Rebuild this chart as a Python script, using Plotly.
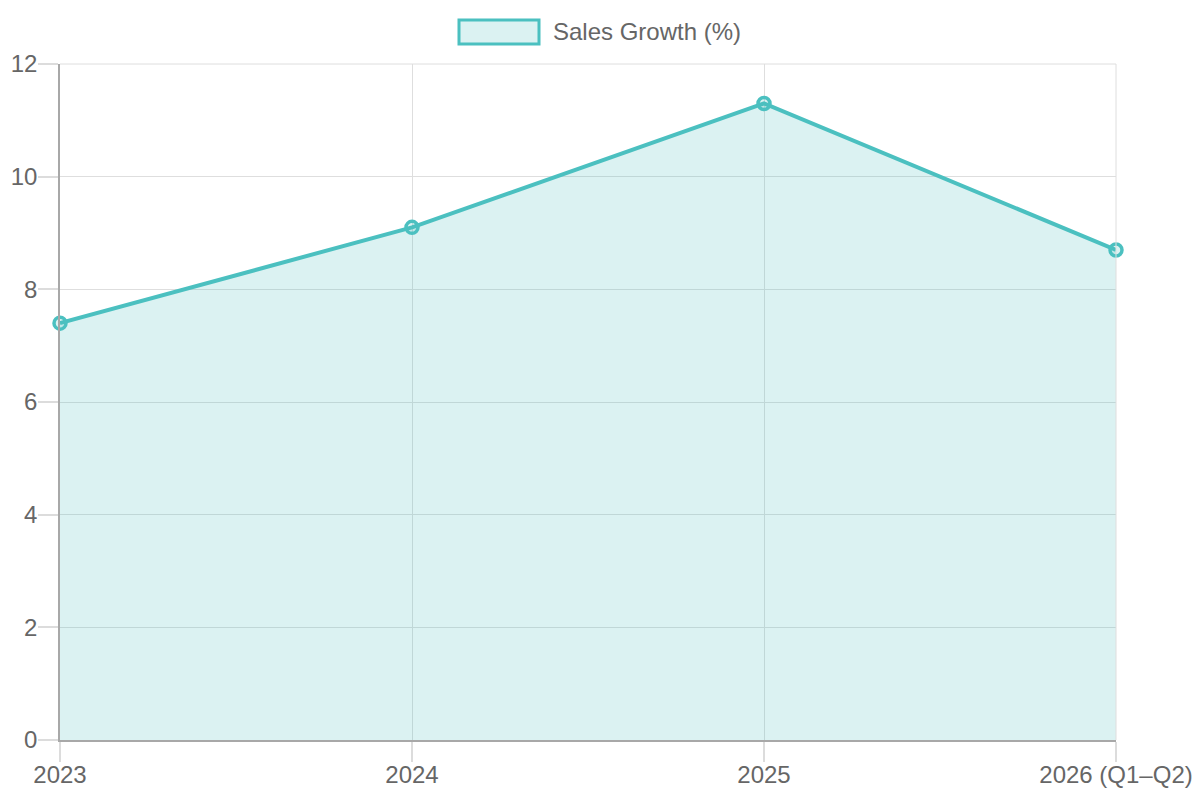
import plotly.graph_objects as go

categories = ["2023", "2024", "2025", "2026 (Q1–Q2)"]
sales_growth = [7.4, 9.1, 11.3, 8.7]
series_name = "Sales Growth (%)"
y_ticks = [0, 2, 4, 6, 8, 10, 12]

TEAL = "rgb(75,192,192)"
TEAL_FILL = "rgba(75,192,192,0.2)"
FONT = "Liberation Sans, Arial, Helvetica, sans-serif"
TXT = "#666666"

L, R, T, B = 60, 84, 64, 60
W, H = 1200, 800
pw, ph = W - L - R, H - T - B

def px_x(x):
    return (x - L) / pw

def px_y(y):
    return (H - B - y) / ph

fig = go.Figure()
fig.add_trace(go.Scatter(
    x=categories, y=sales_growth, name=series_name,
    mode="lines+markers", fill="tozeroy", fillcolor=TEAL_FILL,
    line=dict(color=TEAL, width=4),
    marker=dict(size=12, color=TEAL_FILL, line=dict(color=TEAL, width=3.5)),
    showlegend=False, cliponaxis=False,
))

fig.update_layout(
    width=W, height=H,
    margin=dict(l=L, r=R, t=T, b=B, pad=0, autoexpand=False),
    paper_bgcolor="white", plot_bgcolor="white",
    font=dict(family=FONT, size=24, color=TXT),
    xaxis=dict(
        type="category", range=[0, len(categories) - 1], automargin=False,
        showgrid=True, gridcolor="#dedede", gridwidth=1,
        showline=True, linecolor="#a8a8a8", linewidth=1.5,
        ticks="outside", ticklen=20, tickcolor="#dcdcdc", tickwidth=1.5,
        ticklabelstandoff=-8,
        tickfont=dict(size=24, color=TXT), zeroline=False,
    ),
    yaxis=dict(
        range=[0, 12], tickvals=y_ticks, automargin=False,
        showgrid=True, gridcolor="#dedede", gridwidth=1,
        showline=True, linecolor="#a8a8a8", linewidth=1.5,
        ticks="outside", ticklen=20, tickcolor="#dcdcdc", tickwidth=1.5,
        ticklabelstandoff=-4,
        tickfont=dict(size=24, color=TXT), zeroline=False,
    ),
    shapes=[
        dict(type="rect", xref="paper", yref="paper",
             x0=px_x(459), x1=px_x(539), y0=px_y(44), y1=px_y(20),
             line=dict(color=TEAL, width=3), fillcolor=TEAL_FILL, layer="above"),
        dict(type="line", xref="paper", yref="paper",
             x0=1, x1=1, y0=0, y1=1, line=dict(color="#dedede", width=1)),
        dict(type="line", xref="paper", yref="paper",
             x0=0, x1=1, y0=1, y1=1, line=dict(color="#dedede", width=1)),
    ],
    annotations=[
        dict(text=series_name, xref="paper", yref="paper",
             x=px_x(551), y=px_y(32), xanchor="left", yanchor="middle",
             showarrow=False, font=dict(size=24, color=TXT, family=FONT)),
    ],
)

fig.write_html("out.html")
